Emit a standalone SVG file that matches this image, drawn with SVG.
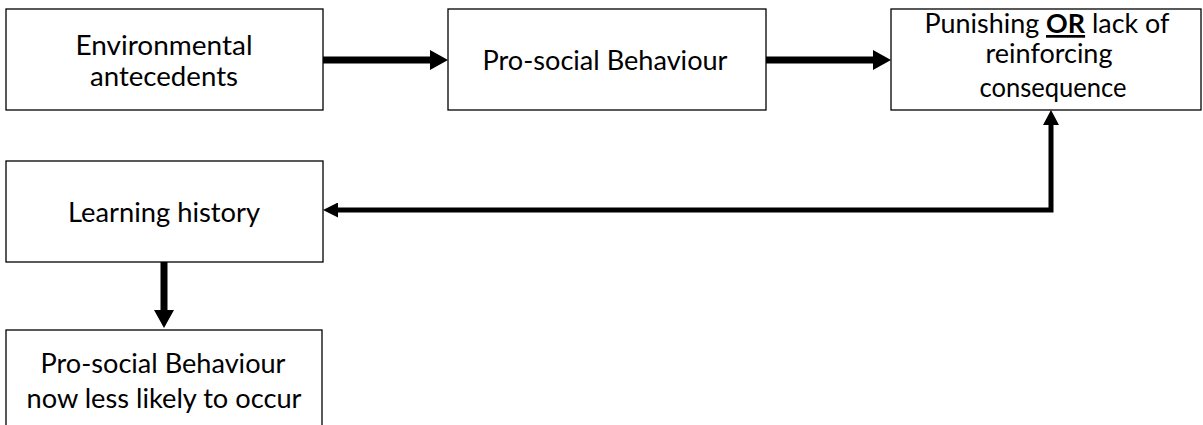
<svg xmlns="http://www.w3.org/2000/svg" width="1203" height="425" viewBox="0 0 1203 425">
<style>
.box{fill:#fff;stroke:#000;stroke-width:1.3}
.t{font-family:Lato,"Open Sans","Liberation Sans",sans-serif;font-size:27px;fill:#000;text-anchor:middle}
.c{fill:none;stroke:#000;stroke-linejoin:miter}
</style>
<defs>
<marker id="big" markerUnits="userSpaceOnUse" viewBox="0 0 18 20" refX="0" refY="10" markerWidth="18" markerHeight="20" orient="auto"><path d="M0,0 L18,10 L0,20 z" fill="#000"/></marker>
<marker id="small" markerUnits="userSpaceOnUse" viewBox="0 0 15 15" refX="0" refY="7.5" markerWidth="15" markerHeight="15" orient="auto"><path d="M0,0 L15,7.5 L0,15 z" fill="#000"/></marker>
</defs>
<g id="n1"><rect class="box" x="6" y="9" width="317" height="101"/>
<text class="t" x="164" y="55" textLength="177" lengthAdjust="spacingAndGlyphs">Environmental</text>
<text class="t" x="164" y="86" textLength="148" lengthAdjust="spacingAndGlyphs">antecedents</text></g>
<g id="n2"><rect class="box" x="448" y="9" width="318" height="101"/>
<text class="t" x="605" y="70" textLength="245" lengthAdjust="spacingAndGlyphs">Pro-social Behaviour</text></g>
<g id="n3"><rect class="box" x="891" y="9" width="310" height="101"/>
<text class="t" x="1047" y="33" textLength="245" lengthAdjust="spacingAndGlyphs">Punishing <tspan font-weight="bold" text-decoration="underline">OR</tspan> lack of</text>
<text class="t" x="1049" y="63" textLength="127" lengthAdjust="spacingAndGlyphs">reinforcing</text>
<text class="t" x="1053" y="97" textLength="147" lengthAdjust="spacingAndGlyphs">consequence</text></g>
<g id="n4"><rect class="box" x="6" y="161" width="317" height="101"/>
<text class="t" x="164" y="222" textLength="192" lengthAdjust="spacingAndGlyphs">Learning history</text></g>
<g id="n5"><rect class="box" x="6" y="330" width="316" height="110"/>
<text class="t" x="163" y="373" textLength="245" lengthAdjust="spacingAndGlyphs">Pro-social Behaviour</text>
<text class="t" x="164" y="408" textLength="275" lengthAdjust="spacingAndGlyphs">now less likely to occur</text></g>
<g id="connectors">
<path class="c" d="M323,60 H430" stroke-width="7" marker-end="url(#big)"/>
<path class="c" d="M766,60 H873" stroke-width="7" marker-end="url(#big)"/>
<path class="c" d="M164,262 V310" stroke-width="7" marker-end="url(#big)"/>
<path class="c" d="M1051,125 V210 H338" stroke-width="5" marker-end="url(#small)"/>
<path d="M1043,125 L1051,110 L1059,125 z" fill="#000"/>
</g>
</svg>
